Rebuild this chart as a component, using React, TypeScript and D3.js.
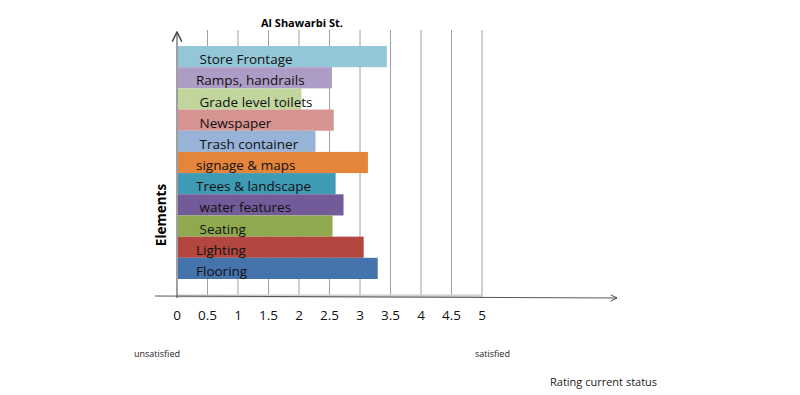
import * as d3 from 'd3';
import React, { useRef, useEffect } from 'react';

// top to bottom, as drawn
const categories = [
  ' Store Frontage', 'Ramps, handrails', ' Grade level toilets', ' Newspaper', ' Trash container',
  'signage & maps', 'Trees & landscape', ' water features', ' Seating', 'Lighting', 'Flooring',
];
const ratings = [3.44, 2.54, 2.04, 2.57, 2.27, 3.13, 2.6, 2.73, 2.55, 3.06, 3.29];
const barColors = [
  '#92c6d8', '#ad9dc6', '#c0d69c', '#d59491', '#97b3d8', '#e4853b',
  '#3e9bb3', '#735a98', '#8ea94e', '#b3463f', '#4573ab',
];
const ticks = [0, 0.5, 1, 1.5, 2, 2.5, 3, 3.5, 4, 4.5, 5];

const App = () => {
  const ref = useRef<SVGSVGElement>(null);
  const width = 800;
  const height = 395;

  useEffect(() => {
    const svg = d3.select(ref.current);
    svg.selectAll('*').remove();
    const font = "'Open Sans', sans-serif";

    const x = d3.scaleLinear().domain([0, 5]).range([177, 482]);
    const y = d3.scaleBand().domain(categories).range([46, 279]).padding(0);

    const defs = svg.append('defs');
    defs.append('marker')
      .attr('id', 'arr').attr('viewBox', '0 0 10 10').attr('refX', 9).attr('refY', 5)
      .attr('markerWidth', 8).attr('markerHeight', 8).attr('orient', 'auto-start-reverse')
      .append('path').attr('d', 'M1,1 L9,5 L1,9').attr('fill', 'none').attr('stroke', '#444').attr('stroke-width', 1.2);

    // gridlines
    svg.append('g').selectAll('line').data(ticks.slice(1)).enter().append('line')
      .attr('x1', d => x(d)).attr('x2', d => x(d))
      .attr('y1', 30).attr('y2', 297)
      .attr('stroke', '#a0a0a0').attr('stroke-width', 1);

    // bars
    svg.append('g').selectAll('rect').data(categories).enter().append('rect')
      .attr('x', x(0) + 1)
      .attr('y', d => y(d)!)
      .attr('width', (_, i) => x(ratings[i]) - x(0) - 1)
      .attr('height', y.bandwidth())
      .attr('fill', (_, i) => barColors[i]);

    svg.append('g').selectAll('text').data(categories).enter().append('text')
      .attr('x', 196)
      .attr('y', d => y(d)! + y.bandwidth() - 3)
      .attr('font-family', font).attr('font-size', 13.5)
      .style('white-space', 'pre')
      .attr('fill', '#111')
      .text(d => d);

    // axes
    svg.append('line').attr('x1', x(0)).attr('x2', x(5)).attr('y1', 296).attr('y2', 296)
      .attr('stroke', '#d0d0d0').attr('stroke-width', 3);
    svg.append('line').attr('x1', 177).attr('x2', 177).attr('y1', 298).attr('y2', 32)
      .attr('stroke', '#808080').attr('stroke-width', 1.5).attr('marker-end', 'url(#arr)');
    svg.append('line').attr('x1', 155).attr('x2', 617).attr('y1', 296).attr('y2', 298)
      .attr('stroke', '#555').attr('stroke-width', 1).attr('marker-end', 'url(#arr)');

    svg.append('g').selectAll('text').data(ticks).enter().append('text')
      .attr('x', d => x(d)).attr('y', 320)
      .attr('text-anchor', 'middle')
      .attr('font-family', font).attr('font-size', 13.5).attr('fill', '#111')
      .text(d => String(d));

    svg.append('text').attr('x', 302).attr('y', 27).attr('text-anchor', 'middle')
      .attr('font-family', font).attr('font-size', 11).attr('font-weight', 'bold')
      .text('Al Shawarbi St.');

    svg.append('text').attr('transform', 'translate(166,215) rotate(-90)').attr('text-anchor', 'middle')
      .attr('font-family', font).attr('font-size', 13.5).attr('font-weight', 'bold')
      .text('Elements');

    svg.append('text').attr('x', 134).attr('y', 357)
      .attr('font-family', font).attr('font-size', 9).attr('fill', '#222').text('unsatisfied');
    svg.append('text').attr('x', 475).attr('y', 357)
      .attr('font-family', font).attr('font-size', 9).attr('fill', '#222').text('satisfied');
    svg.append('text').attr('x', 550).attr('y', 386)
      .attr('font-family', font).attr('font-size', 11).attr('fill', '#222').text('Rating  current status');
  }, []);

  return (
    <svg ref={ref} width={width} height={height}
      style={{ position: 'absolute', left: 0, top: 0, background: '#fff' }} />
  );
};

export default App;
